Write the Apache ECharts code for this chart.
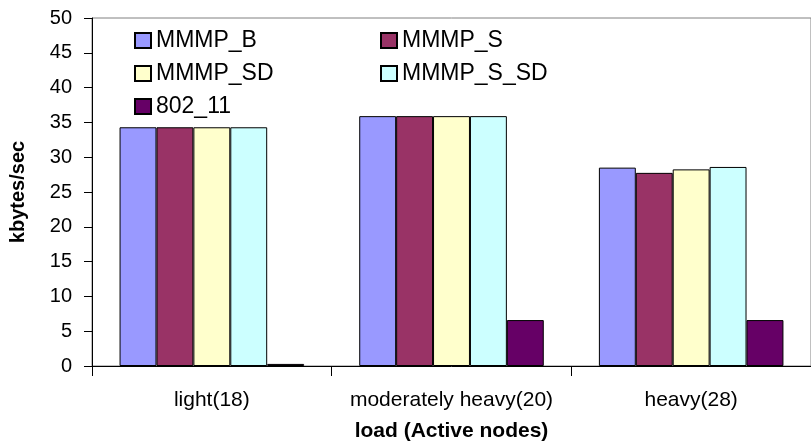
<!DOCTYPE html>
<html>
<head>
<meta charset="utf-8">
<script src="https://cdn.jsdelivr.net/npm/echarts@6/dist/echarts.min.js"></script>
<style>html,body{margin:0;padding:0;background:#fff;}#c{width:811px;height:447px;}</style>
</head>
<body>
<div id="c"></div>
<script>
var categories = ['light(18)', 'moderately heavy(20)', 'heavy(28)'];
var seriesNames = ['MMMP_B', 'MMMP_S', 'MMMP_SD', 'MMMP_S_SD', '802_11'];
var mmmpB = [34.3, 35.9, 28.5];
var mmmpS = [34.3, 35.9, 27.75];
var mmmpSD = [34.3, 35.9, 28.25];
var mmmpSSD = [34.3, 35.9, 28.6];
var w80211 = [0.3, 6.6, 6.6];
var yTicks = [0, 5, 10, 15, 20, 25, 30, 35, 40, 45, 50];

var colors = ['#9999FF', '#993366', '#FFFFCC', '#CCFFFF', '#660066'];
var values = [mmmpB, mmmpS, mmmpSD, mmmpSSD, w80211];
var font = 'Liberation Sans, Arial, sans-serif';

var legendPos = [
  {left: 134, top: 29},
  {left: 380, top: 29},
  {left: 134, top: 62},
  {left: 380, top: 62},
  {left: 134, top: 95}
];

var chart = echarts.init(document.getElementById('c'));
chart.setOption({
  animation: false,
  backgroundColor: '#fff',
  grid: {left: 92, right: -8, top: 18, bottom: 80, show: true, borderColor: '#808080', borderWidth: 1},
  legend: seriesNames.map(function (n, i) {
    return {
      data: [n], left: legendPos[i].left, top: legendPos[i].top, padding: 0,
      icon: 'rect', itemWidth: 16, itemHeight: 15, itemGap: 0,
      textStyle: {fontFamily: font, fontSize: 23, color: '#000', lineHeight: 22}
    };
  }),
  xAxis: {
    type: 'category', data: categories,
    axisLine: {lineStyle: {color: '#000', width: 1}},
    axisTick: {show: true, length: 10, lineStyle: {color: '#000'}},
    axisLabel: {fontFamily: font, fontSize: 21, color: '#000', margin: 24, interval: 0},
    name: 'load (Active nodes)', nameLocation: 'middle', nameGap: 55,
    nameTextStyle: {fontFamily: font, fontSize: 21, fontWeight: 'bold', color: '#000'}
  },
  yAxis: {
    type: 'value', min: yTicks[0], max: yTicks[yTicks.length - 1], interval: 5,
    axisLine: {show: true, lineStyle: {color: '#000', width: 1}},
    axisTick: {show: true, length: 8, lineStyle: {color: '#000'}},
    splitLine: {show: false},
    axisLabel: {fontFamily: font, fontSize: 20, color: '#000', margin: 20},
    name: 'kbytes/sec', nameLocation: 'middle', nameGap: 64,
    nameTextStyle: {fontFamily: font, fontSize: 20, fontWeight: 'bold', color: '#000'}
  },
  series: seriesNames.map(function (n, i) {
    return {
      name: n, type: 'bar', data: values[i],
      barGap: '0%', barCategoryGap: '23%',
      itemStyle: {color: colors[i], borderColor: '#000', borderWidth: 1}
    };
  })
});
</script>
</body>
</html>
